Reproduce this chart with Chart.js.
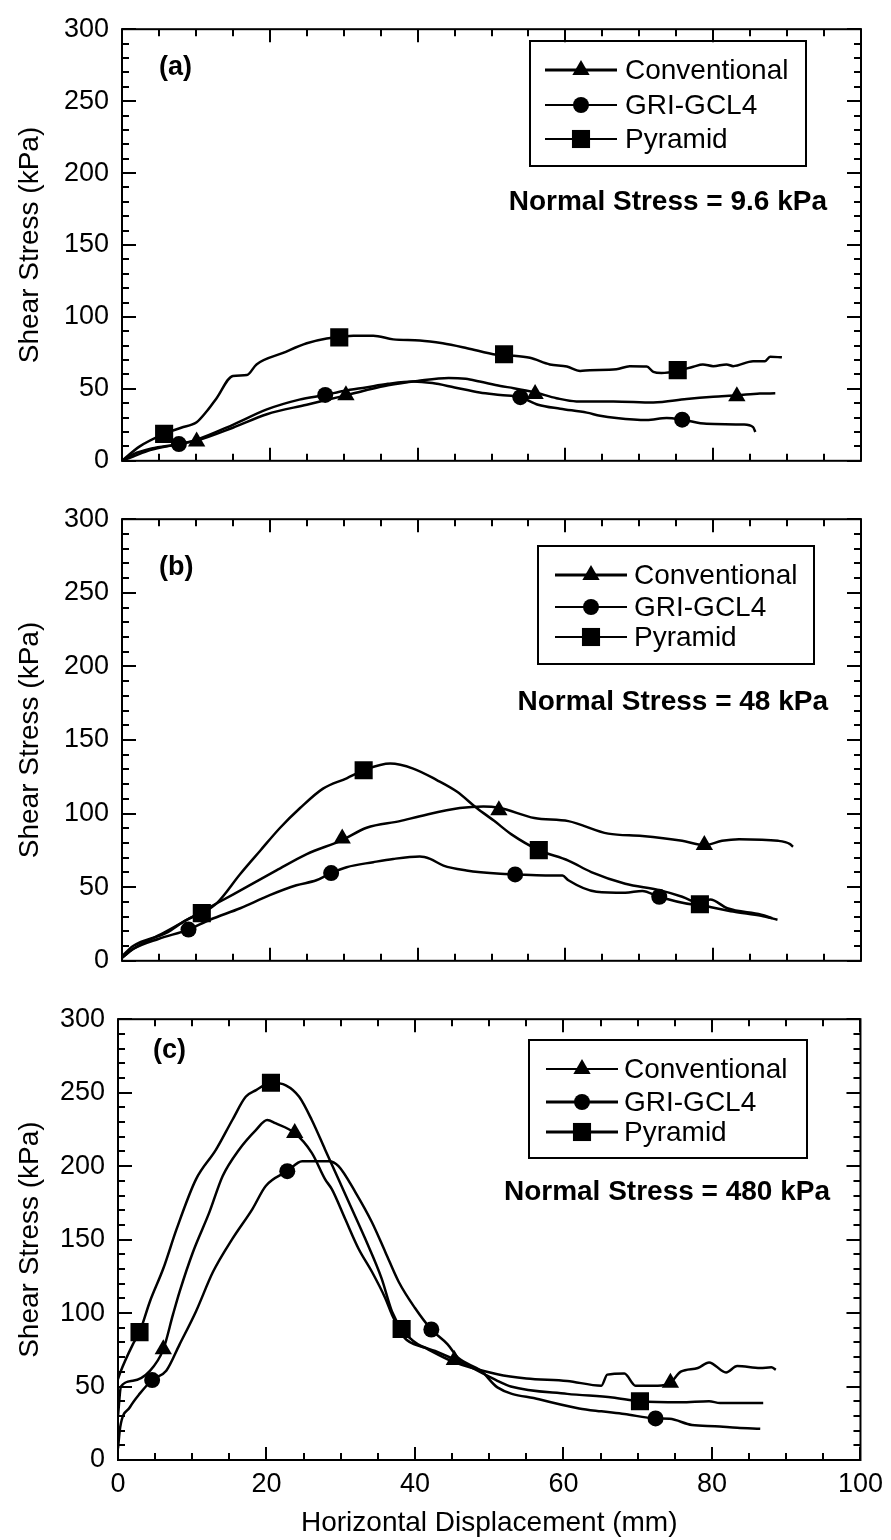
<!DOCTYPE html>
<html>
<head>
<meta charset="utf-8">
<script src="https://cdn.jsdelivr.net/npm/chart.js@4.4.1/dist/chart.umd.min.js"></script>
<style>
  body { margin: 0; background: #fff; width: 891px; height: 1540px; position: relative; overflow: hidden; }
  .panel { position: absolute; left: 0; }
</style>
</head>
<body>
<canvas id="chartA" class="panel" width="891" height="490" style="top:0px"></canvas>
<canvas id="chartB" class="panel" width="891" height="500" style="top:490px"></canvas>
<canvas id="chartC" class="panel" width="891" height="550" style="top:990px"></canvas>
<script>
// ---- data ----
const seriesNames = ['Conventional', 'GRI-GCL4', 'Pyramid'];
const xTickValues = [0, 20, 40, 60, 80, 100];
const yTickValues = [0, 50, 100, 150, 200, 250, 300];
const panelLabels = ['(a)', '(b)', '(c)'];
const stressLabels = ['Normal Stress = 9.6 kPa', 'Normal Stress = 48 kPa', 'Normal Stress = 480 kPa'];

// (a) normal stress 9.6 kPa
const convA = [[0,0],[1.5,3],[3.8,7.5],[7,11],[10.1,14],[15,23],[19.6,32.4],[25,39],[30.3,45.5],[33,49],[36,52.5],[40,55.5],[44.2,57.6],[46.5,57],[48.4,55.1],[51.2,52],[53,50.5],[55.9,47.5],[58.8,43.5],[61.5,41.3],[66.5,41.3],[71.9,40.6],[76.4,43],[80,44.5],[83.2,45.5],[86.3,46.7],[88.4,46.9]];
const griA = [[0,0],[1.5,4.5],[4,8.5],[7.7,11.6],[10,14.5],[15,25],[19.6,35.7],[24,42.5],[27.5,45.8],[30,48.5],[33,51],[36,53.5],[39.4,55.1],[42,54],[45,51],[48.4,47.5],[51.2,45.8],[53.9,44.2],[56.3,39],[59.3,36.2],[62.9,33.5],[64.7,31.3],[66.9,29.7],[71,28.3],[73.7,29.7],[75.8,28.6],[79.1,25.7],[84.1,25.2],[85.4,23.4],[85.7,20]];
const pyrA = [[0,0],[2.4,10],[5.7,18.7],[8,23],[10.1,26.8],[11.5,34.6],[12.8,43.5],[15,59],[16.9,59.6],[18.2,67],[21.8,75],[25,81.7],[27.7,85],[29.4,86],[31.3,87],[34,87],[36.7,84.4],[40.3,83.7],[43.4,81.7],[46.7,78.3],[50.7,73.7],[52.5,73.2],[55.2,71.6],[57.9,67],[60.2,65.6],[62,62.5],[63.3,63],[66.9,63.6],[68.7,65.8],[71,65.6],[71.9,61.8],[73,61],[75.2,62.5],[77.3,65.4],[78.6,67],[80,65.8],[81.8,67],[82.7,65.8],[85.4,69.2],[87,69.2],[87.7,72.3],[89.3,71.9]];
const convMarkA = [[10.1,13.4],[30.3,45.5],[55.9,46.4],[83.2,44.8]];
const griMarkA = [[7.7,11.6],[27.5,45.8],[53.9,44.2],[75.8,28.6]];
const pyrMarkA = [[5.7,18.7],[29.4,85.8],[51.7,74.1],[75.2,63]];

// (b) normal stress 48 kPa
const convB = [[0,2],[1.5,8],[6,20],[10.6,33],[15,45],[20.9,61.4],[25,72.5],[29.8,82],[33.1,90.4],[37.6,94.9],[40.3,98.2],[45.7,103.8],[48.9,104.9],[51,104],[55.8,97],[60.4,94.9],[65.8,86.4],[70.4,84.8],[75.8,81.5],[78.8,78.6],[81.2,81.5],[83.5,82.6],[88.8,81.5],[90.4,79.3],[90.8,77.5]];
const griB = [[0,2],[1.5,8],[5,15],[9,21.2],[11.9,27.9],[16,35.7],[20,44.6],[23.6,51.3],[26.3,54.7],[28.3,59.6],[30.4,63.6],[34,67],[36.7,69.2],[40.3,70.8],[41.7,69.2],[43.5,64.7],[46.6,61.4],[51.2,59.1],[53.2,58.7],[57.3,58],[59.6,58],[60.4,54.7],[64.2,46.9],[68.1,46.2],[70.4,47.5],[72.7,43.5],[78.1,38],[79.6,41.7],[81.9,35.7],[86.5,31.3],[88,29]];
const pyrB = [[0,3],[1.5,10],[6,19],[8.75,27.9],[10.8,32.4],[12.8,39],[16,59],[18.7,74.8],[21.4,90.4],[24.1,103.8],[27.2,117],[30.4,124],[32.7,129.4],[36.3,134],[39.4,130.6],[42.6,122.8],[45.3,115],[48,103.8],[50.4,94.9],[52.7,85.9],[56.4,75.2],[60.4,68.1],[63.5,60.3],[68.1,52.4],[72.7,48],[75.8,43.5],[78.2,38.4],[82.7,33.5],[86.5,30.6],[88.7,27.9]];
const convMarkB = [[29.8,83],[51,102.3],[78.8,78.6]];
const griMarkB = [[9,21.2],[28.3,59.6],[53.2,58.7],[72.7,43.5]];
const pyrMarkB = [[10.8,32.4],[32.7,129.4],[56.4,75.2],[78.2,38.4]];

// (c) normal stress 480 kPa
const convC = [[0,30],[0.4,50],[2,53.9],[4.3,60.7],[6.1,75.3],[7.4,98.9],[8.3,114.6],[10.1,141.6],[12.3,168.5],[14.1,193.3],[16.3,211.2],[18.6,224.7],[20.1,231.4],[21.2,229.2],[23.8,222.5],[26.1,209],[27.9,191],[28.8,184.3],[30.6,164],[32.4,143.8],[34.2,128.1],[36,110.1],[36.9,98.9],[38.6,83.1],[41.3,76.4],[44.9,67.4],[51.1,58.4],[55,55.5],[60.5,53.8],[65.1,50.6],[65.9,58.1],[68.2,58.9],[69.7,50.6],[72.7,50.6],[74.4,52.6],[75.8,60.1],[78.1,62.6],[79.6,66.4],[81.9,59.6],[83.4,63.9],[86.5,62.6],[88,63.1],[88.6,61.4]];
const griC = [[0,8],[0.3,22.5],[1.6,35.9],[2.9,45],[4.6,54.4],[6.5,60.7],[8.3,78.7],[10.5,101.1],[12.8,128.1],[15.4,150.5],[18.1,170.8],[19.9,186.5],[22.8,196.6],[24.8,203.4],[28.4,203.4],[29.7,200],[32,182],[34.2,161.8],[36,141.6],[37.8,121.3],[40,103.4],[42.2,88.8],[44.4,78.7],[45.8,69.6],[48.9,60.7],[51.1,49.4],[56.7,41.3],[62.1,35.1],[65.1,33.1],[68.2,31.3],[72.4,28.3],[74.3,28],[77.3,23.8],[80.4,23],[83.4,22],[86.5,21.3]];
const pyrC = [[0,55],[0.3,59.5],[2,78.7],[2.9,87],[4.3,107.9],[6.1,130.3],[7.9,157.3],[10.5,191],[13.2,211.2],[15.4,231.4],[17.2,247.2],[18.6,251.7],[20.6,256.7],[22.6,255],[24.4,247.2],[26.1,231.4],[27.9,211.2],[29.7,191],[31.5,170.8],[33.3,150.5],[35.5,123.6],[36.9,101.1],[38.2,89.2],[40.4,78.7],[42.7,74.2],[46.7,65.2],[51.1,53.9],[52.9,50],[60.5,45],[66.6,42.6],[70.3,40],[75.8,39.3],[79.6,40],[81.1,38.8],[86.9,38.8]];
const convMarkC = [[6.1,75.3],[23.8,222.5],[45.3,68.1],[74.4,52.6]];
const griMarkC = [[4.6,54.4],[22.8,196.6],[42.2,88.8],[72.4,28.3]];
const pyrMarkC = [[2.9,87],[20.6,256.7],[38.2,89.2],[70.3,40]];

// ---- styling ----
Chart.defaults.font.family = '"Liberation Sans", Arial, sans-serif';
Chart.defaults.color = '#000';

const markerStyles = [
  { pointStyle: 'triangle', radius: 10 },
  { pointStyle: 'circle', radius: 8 },
  { pointStyle: 'rect', radius: 12.8 }
];

function toPts(arr) {
  return arr.map(([x, y]) => ({ x, y }));
}

// frame with inward major/minor ticks on all four sides
const frameTicks = {
  id: 'frameTicks',
  afterDatasetsDraw(chart) {
    const { ctx, chartArea: a, scales: { x, y } } = chart;
    ctx.save();
    ctx.strokeStyle = '#000';
    ctx.lineWidth = 2;
    ctx.beginPath();
    for (let v = 0; v <= 100; v += 5) {
      const px = Math.round(x.getPixelForValue(v));
      const len = xTickValues.includes(v) ? 13 : 7;
      ctx.moveTo(px, a.bottom); ctx.lineTo(px, a.bottom - len);
      ctx.moveTo(px, a.top); ctx.lineTo(px, a.top + len);
    }
    for (let v = 0; v <= 300; v += 10) {
      const py = Math.round(y.getPixelForValue(v));
      const len = yTickValues.includes(v) ? 14 : 7;
      ctx.moveTo(a.left, py); ctx.lineTo(a.left + len, py);
      ctx.moveTo(a.right, py); ctx.lineTo(a.right - len, py);
    }
    ctx.stroke();
    ctx.strokeRect(a.left, a.top, a.right - a.left, a.bottom - a.top);
    ctx.restore();
  }
};

function drawMarker(ctx, style, r, cx, cy) {
  ctx.beginPath();
  if (style === 'triangle') {
    ctx.moveTo(cx, cy - r);
    ctx.lineTo(cx + 0.866 * r, cy + 0.5 * r);
    ctx.lineTo(cx - 0.866 * r, cy + 0.5 * r);
    ctx.closePath();
  } else if (style === 'circle') {
    ctx.arc(cx, cy, r, 0, Math.PI * 2);
  } else {
    const s = r * Math.SQRT1_2;
    ctx.rect(cx - s, cy - s, 2 * s, 2 * s);
  }
  ctx.fill();
}

// boxed legend, panel letter and normal stress note
const panelNotes = {
  id: 'panelNotes',
  afterDraw(chart, args, o) {
    const ctx = chart.ctx;
    ctx.save();
    ctx.fillStyle = '#000';
    ctx.strokeStyle = '#000';
    ctx.lineWidth = 2;
    ctx.strokeRect(o.box[0], o.box[1], o.box[2], o.box[3]);
    ctx.textBaseline = 'middle';
    ctx.font = '28px "Liberation Sans", Arial, sans-serif';
    seriesNames.forEach((name, i) => {
      const yy = o.rows[i];
      ctx.lineWidth = o.widths[i];
      ctx.beginPath();
      ctx.moveTo(o.line[0], yy);
      ctx.lineTo(o.line[1], yy);
      ctx.stroke();
      drawMarker(ctx, markerStyles[i].pointStyle, markerStyles[i].radius, (o.line[0] + o.line[1]) / 2, yy);
      ctx.textAlign = 'left';
      ctx.fillText(name, o.textX, yy + 1);
    });
    ctx.font = 'bold 27px "Liberation Sans", Arial, sans-serif';
    ctx.textAlign = 'left';
    ctx.fillText(o.label, o.labelPos[0], o.labelPos[1]);
    ctx.font = 'bold 28px "Liberation Sans", Arial, sans-serif';
    ctx.textAlign = 'right';
    ctx.fillText(o.stress, o.stressPos[0], o.stressPos[1]);
    ctx.restore();
  }
};

function makePanel(id, curves, marks, geo, notes) {
  const datasets = [];
  curves.forEach((c, i) => {
    datasets.push({
      label: seriesNames[i],
      data: toPts(c),
      showLine: true,
      borderColor: '#000',
      borderWidth: 2.5,
      pointRadius: 0,
      cubicInterpolationMode: 'monotone'
    });
  });
  marks.forEach((m, i) => {
    datasets.push({
      label: seriesNames[i] + ' markers',
      data: toPts(m),
      showLine: false,
      pointStyle: markerStyles[i].pointStyle,
      pointRadius: markerStyles[i].radius,
      backgroundColor: '#000',
      borderColor: '#000',
      borderWidth: 0
    });
  });

  const canvas = document.getElementById(id);
  return new Chart(canvas.getContext('2d'), {
    type: 'scatter',
    data: { datasets },
    options: {
      responsive: false,
      animation: false,
      layout: { padding: { top: geo.plotTop, right: 891 - geo.right, left: 0, bottom: 0 } },
      plugins: {
        legend: { display: false },
        tooltip: { enabled: false },
        panelNotes: notes
      },
      scales: {
        x: {
          type: 'linear',
          min: 0,
          max: 100,
          grid: { display: false, drawTicks: false },
          border: { display: false },
          afterBuildTicks: s => { s.ticks = xTickValues.map(v => ({ value: v })); },
          afterFit: s => { s.height = geo.height - geo.plotBottom; },
          ticks: { display: geo.showX, padding: 8, font: { size: 27 } },
          title: {
            display: geo.showX,
            text: 'Horizontal Displacement (mm)',
            font: { size: 28 },
            padding: { top: 0, bottom: 0 }
          }
        },
        y: {
          type: 'linear',
          min: 0,
          max: 300,
          grid: { display: false, drawTicks: false },
          border: { display: false },
          afterBuildTicks: s => { s.ticks = yTickValues.map(v => ({ value: v })); },
          afterFit: s => { s.width = geo.left; },
          ticks: { padding: 13, font: { size: 27 } },
          title: {
            display: true,
            text: 'Shear Stress (kPa)',
            font: { size: 28 },
            padding: { top: 13, bottom: 0 }
          }
        }
      }
    },
    plugins: [frameTicks, panelNotes]
  });
}

makePanel('chartA', [convA, griA, pyrA], [convMarkA, griMarkA, pyrMarkA],
  { height: 490, left: 122, right: 861, plotTop: 17, plotBottom: 465, showX: false },
  { box: [530, 41, 276, 125], rows: [70, 105, 139], line: [545, 617], textX: 625, widths: [3, 2, 2],
    label: panelLabels[0], labelPos: [159, 68], stress: stressLabels[0], stressPos: [827, 202] });

makePanel('chartB', [convB, griB, pyrB], [convMarkB, griMarkB, pyrMarkB],
  { height: 500, left: 122, right: 861, plotTop: 27, plotBottom: 475, showX: false },
  { box: [538, 56, 276, 118], rows: [85, 117, 147], line: [555, 627], textX: 634, widths: [3, 2, 2],
    label: panelLabels[1], labelPos: [159, 78], stress: stressLabels[1], stressPos: [828, 212] });

makePanel('chartC', [convC, griC, pyrC], [convMarkC, griMarkC, pyrMarkC],
  { height: 550, left: 118, right: 865, plotTop: 25, plotBottom: 470, showX: true },
  { box: [529, 50, 278, 118], rows: [79, 112, 142], line: [546, 618], textX: 624, widths: [2, 3, 3],
    label: panelLabels[2], labelPos: [153, 61], stress: stressLabels[2], stressPos: [830, 202] });
</script>
</body>
</html>
